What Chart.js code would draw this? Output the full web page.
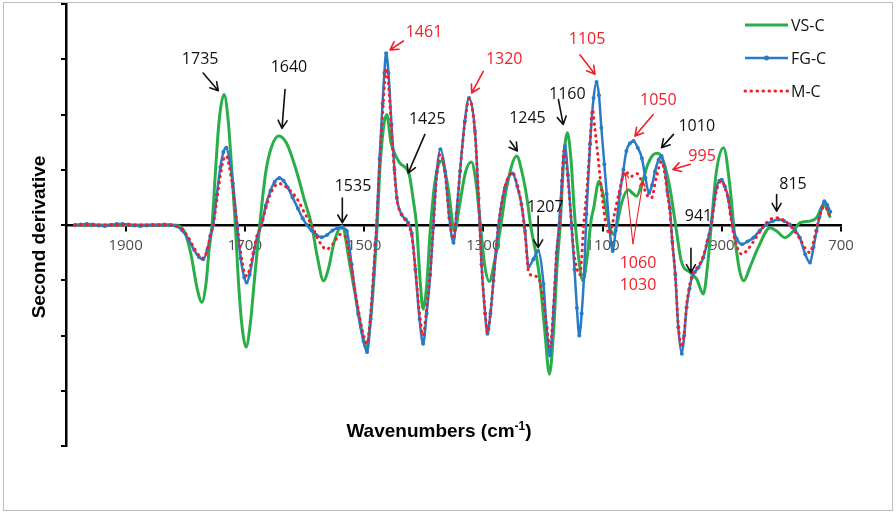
<!DOCTYPE html>
<html>
<head>
<meta charset="utf-8">
<script src="https://cdn.jsdelivr.net/npm/chart.js@4/dist/chart.umd.min.js"></script>
<style>
  html, body { margin: 0; padding: 0; background: #fff; }
  #wrap { width: 896px; height: 513px; position: relative; }
</style>
</head>
<body>
<div id="wrap"><canvas id="c" width="896" height="513"></canvas></div>
<script>
// Second-derivative FTIR spectra, wavenumber (cm-1) vs. arbitrary units

const vscWn = [1985,1970,1955,1940,1925,1910,1895,1880,1865,1850,1835,1820,1810,1800,1790,1780,1772,1765,1760,1755,1750,1743,1735,1728,1722,1716,1710,1704,1698,1691,1684,1675,1665,1655,1643,1630,1620,1610,1600,1588,1578,1568,1560,1550,1537,1524,1507,1497,1488,1478,1473,1462,1455,1448,1440,1426,1423,1418,1412,1406,1401,1395,1389,1381,1370,1359,1348,1340,1330,1320,1312,1306,1298,1290,1281,1272,1261,1244,1235,1227,1220,1212,1205,1197,1189,1182,1176,1171,1165,1159,1153,1147,1140,1133,1126,1119,1115,1106,1099,1092,1086,1081,1075,1068,1057,1050,1043,1034,1024,1015,1007,998,987,976,968,953,942,931,923,917,909,897,886,878,870,863,853,839,819,808,794,780,769,752,741,729,723,718];
const vscVal = [0,0,0,0,0,0,0,0,0,0,0,0,-0.02,-0.15,-0.55,-1.15,-1.40,-1.05,-0.45,0,0.85,1.9,2.36,1.9,1.0,0,-1.15,-1.9,-2.21,-1.8,-1.0,0,0.95,1.42,1.61,1.48,1.2,0.85,0.45,0,-0.6,-1.01,-0.8,-0.3,-0.02,-0.71,-1.73,-2.21,-1.6,0,1.1,2.0,1.5,1.28,1.12,0.97,0.85,0.49,0,-1.0,-1.52,-1.1,-0.1,0.79,1.16,0.67,-0.11,0.35,0.95,1.14,0.75,0.13,-0.7,-1.02,-0.65,-0.11,0.67,1.25,0.95,0.5,-0.05,-0.5,-1.0,-1.9,-2.70,-1.9,-0.7,0,1.2,1.67,1.2,0.2,-0.6,-1.01,-0.6,0.1,0.3,0.79,0.55,0.15,-0.1,-0.17,0.05,0.4,0.64,0.58,0.52,0.75,1.1,1.27,1.30,1.15,0.67,-0.11,-0.65,-0.86,-0.98,-1.25,-0.65,0.07,0.97,1.40,0.67,-0.23,-0.83,-1.01,-0.77,-0.41,-0.05,-0.11,-0.23,-0.11,0.04,0.07,0.13,0.37,0.28,0.13];

const fgcWn = [1985,1975,1965,1955,1945,1935,1925,1915,1905,1895,1885,1875,1865,1855,1845,1835,1825,1815,1805,1795,1785,1777,1770,1763,1758,1753,1747,1741,1736,1731,1726,1720,1713,1707,1701,1697,1692,1685,1679,1672,1665,1657,1650,1642,1635,1628,1620,1611,1603,1596,1588,1580,1571,1562,1553,1545,1537,1529,1521,1510,1501,1495,1489,1484,1479,1474,1469,1466,1463,1459,1454,1449,1445,1437,1430,1426,1420,1414,1407,1401,1395,1389,1384,1378,1372,1364,1357,1350,1345,1339,1331,1324,1314,1308,1303,1297,1293,1288,1283,1275,1264,1251,1243,1236,1230,1224,1216,1208,1199,1194,1188,1182,1177,1173,1168,1163,1158,1152,1147,1143,1139,1135,1131,1127,1121,1115,1110,1106,1102,1097,1093,1088,1083,1078,1071,1065,1060,1054,1048,1041,1034,1028,1022,1017,1012,1006,1001,996,991,987,983,978,973,967,963,959,954,950,945,939,931,924,917,909,904,900,895,889,885,881,875,866,857,847,836,825,815,805,795,786,777,769,760,752,746,741,736,732,728,723,718];
const fgcVal = [0,0.01,0.02,0.01,-0.01,-0.02,0,0.02,0.02,0.01,-0.01,-0.02,-0.01,0,0,0.01,0,-0.02,-0.1,-0.25,-0.45,-0.58,-0.62,-0.45,-0.2,0,0.55,1.05,1.32,1.40,1.2,0.75,0,-0.6,-0.95,-1.04,-0.9,-0.5,-0.2,0,0.35,0.62,0.78,0.85,0.8,0.68,0.5,0.3,0.12,0,-0.1,-0.18,-0.22,-0.18,-0.1,-0.06,-0.05,-0.11,-0.71,-1.61,-2.1,-2.30,-1.7,-0.9,0,1.2,2.2,2.75,3.11,2.75,1.82,1.0,0.49,0.19,0.1,0.04,-0.15,-0.8,-1.7,-2.15,-1.6,-0.9,-0.05,0.97,1.37,0.97,0.13,-0.32,0.2,0.97,1.88,2.30,1.70,0.49,-0.71,-1.6,-1.97,-1.6,-1.01,-0.05,0.67,0.93,0.7,0.37,-0.11,-0.75,-0.62,-0.47,-1.07,-1.85,-2.36,-1.5,-0.5,0,0.8,1.43,0.9,0,-0.8,-1.5,-2.0,-1.6,-0.9,0.2,1.46,2.3,2.59,2.35,1.76,1.1,0.56,-0.1,-0.47,-0.1,0.56,1.0,1.34,1.48,1.52,1.4,1.21,0.85,0.58,0.72,0.97,1.18,1.25,1.05,0.6,0.3,-0.3,-0.9,-1.85,-2.33,-2.0,-1.49,-1.15,-0.95,-0.85,-0.77,-0.59,-0.3,0.07,0.67,0.8,0.82,0.7,0.49,0.2,-0.05,-0.25,-0.35,-0.3,-0.23,-0.1,0.01,0.07,0.1,0.07,0.01,-0.1,-0.23,-0.53,-0.68,-0.4,-0.11,0.15,0.31,0.43,0.36,0.24];

const mcWn = [1985,1965,1945,1925,1905,1885,1865,1845,1825,1815,1805,1795,1785,1777,1770,1763,1758,1753,1747,1741,1736,1731,1726,1720,1713,1707,1701,1697,1692,1685,1679,1672,1665,1657,1650,1642,1635,1628,1620,1611,1600,1588,1575,1563,1552,1540,1532,1524,1512,1502,1495,1489,1484,1479,1474,1469,1466,1463,1459,1454,1449,1445,1437,1430,1426,1420,1414,1407,1401,1395,1389,1384,1378,1372,1364,1357,1350,1345,1339,1331,1324,1314,1308,1303,1297,1293,1288,1283,1275,1264,1251,1243,1236,1230,1224,1216,1207,1197,1193,1188,1182,1177,1172,1168,1165,1159,1155,1149,1142,1138,1135,1132,1127,1121,1117,1113,1107,1101,1096,1088,1080,1072,1062,1052,1042,1033,1026,1018,1010,1001,996,991,987,983,978,973,967,963,959,954,950,945,939,931,924,917,909,904,900,895,889,885,881,875,866,857,847,836,825,815,805,795,786,777,769,760,752,746,741,736,732,728,723,718];
const mcVal = [0,0,0,0,0,0,0,0,0,-0.02,-0.08,-0.22,-0.42,-0.55,-0.6,-0.45,-0.2,0,0.45,0.9,1.18,1.25,1.05,0.65,0,-0.5,-0.85,-0.92,-0.8,-0.45,-0.18,0,0.3,0.56,0.7,0.75,0.72,0.66,0.58,0.45,0.22,0,-0.3,-0.44,-0.34,-0.17,-0.2,-0.6,-1.4,-1.95,-2.15,-1.6,-0.85,0,1.1,2.0,2.5,2.84,2.55,1.7,0.95,0.48,0.18,0.08,0,-0.2,-0.8,-1.6,-2.0,-1.5,-0.85,-0.05,0.9,1.28,0.92,0.13,-0.25,0.2,0.97,1.85,2.28,1.68,0.49,-0.7,-1.58,-1.95,-1.6,-1.0,-0.05,0.67,0.95,0.72,0.37,-0.15,-0.85,-0.92,-0.97,-1.55,-1.9,-2.21,-1.45,-0.5,0,0.75,1.34,0.95,0.43,-0.41,-0.83,-0.9,-0.6,-0.05,0.55,1.46,2.09,1.76,1.16,0.55,0.13,-0.17,0.2,0.6,0.97,0.88,0.93,0.75,0.55,0.49,0.85,1.15,0.95,0.55,0.25,-0.3,-0.9,-1.8,-2.21,-1.95,-1.45,-1.1,-0.92,-0.82,-0.74,-0.57,-0.28,0.05,0.62,0.76,0.8,0.68,0.45,0.15,-0.12,-0.38,-0.53,-0.45,-0.3,-0.12,0.04,0.12,0.13,0.08,0,-0.12,-0.25,-0.42,-0.5,-0.3,-0.05,0.15,0.28,0.34,0.28,0.13];

const seriesNames = ['VS-C', 'FG-C', 'M-C'];
const xTickValues = [1900, 1700, 1500, 1300, 1100, 900, 700];

// Band labels: text anchor, arrow tail and arrow tip, all in (wavenumber, value)
const INK = '#111111';
const RED = '#F0202A';
const bandNotes = [
  { text: '1735', color: INK, at: [1775, 3.0],   from: [1770, 2.75],   to: [1744.5, 2.43] },
  { text: '1640', color: INK, at: [1626, 2.85],  from: [1632.6, 2.45], to: [1637.7, 1.75] },
  { text: '1535', color: INK, at: [1518.6, 0.69], from: [1536.5, 0.49], to: [1536.5, 0.04] },
  { text: '1461', color: RED, at: [1399.5, 3.48], from: [1434, 3.33],  to: [1456.5, 3.17] },
  { text: '1425', color: INK, at: [1394, 1.91],  from: [1398, 1.64],   to: [1426, 0.94] },
  { text: '1320', color: RED, at: [1265, 2.99],  from: [1300, 2.78],   to: [1319.5, 2.39] },
  { text: '1245', color: INK, at: [1226, 1.93],  from: [1255, 1.52],   to: [1243, 1.34] },
  { text: '1207', color: INK, at: [1196, 0.31],  from: [1208, 0.16],   to: [1208, -0.41] },
  { text: '1160', color: INK, at: [1159, 2.36],  from: [1174, 2.27],   to: [1166, 1.82] },
  { text: '1105', color: RED, at: [1126, 3.35],  from: [1138, 3.08],   to: [1112.7, 2.73] },
  { text: '1050', color: RED, at: [1006.5, 2.25], from: [1015, 2.0],   to: [1045.6, 1.61] },
  { text: '1010', color: INK, at: [942, 1.79],   from: [981, 1.64],    to: [1001, 1.40] },
  { text: '995',  color: RED, at: [933, 1.245],  from: [953, 1.10],    to: [982, 1.005] },
  { text: '941',  color: INK, at: [939, 0.15],   from: [951.7, -0.42], to: [951.7, -0.86] },
  { text: '815',  color: INK, at: [780.5, 0.735], from: [808, 0.55],   to: [808, 0.25] },
  { text: '1060', color: RED, at: [1040.5, -0.70] },
  { text: '1030', color: RED, at: [1040.5, -1.10] }
];
// thin pointer pair from the 1060 / 1030 labels up to the M-C shoulders
const pairPointers = [
  { from: [1049, -0.34], to: [1062, 0.94] },
  { from: [1049, -0.34], to: [1032, 0.79] }
];

const GREEN = '#2AAE4A';
const BLUE = '#2A7BC6';

const toXY = (wn, val) => wn.map((w, i) => ({ x: w, y: val[i] }));

const NUM_FONT = '16px "Open Sans", "Noto Sans", sans-serif';
const TITLE_FONT = 'bold 19px "Liberation Sans", Arial, sans-serif';

function drawArrow(ctx, x1, y1, x2, y2, color, width, head) {
  ctx.save();
  ctx.strokeStyle = color;
  ctx.lineWidth = width;
  ctx.lineCap = 'round';
  ctx.lineJoin = 'round';
  ctx.beginPath();
  ctx.moveTo(x1, y1);
  ctx.lineTo(x2, y2);
  const ang = Math.atan2(y2 - y1, x2 - x1);
  const spread = Math.PI / 6;
  ctx.moveTo(x2 - head * Math.cos(ang - spread), y2 - head * Math.sin(ang - spread));
  ctx.lineTo(x2, y2);
  ctx.lineTo(x2 - head * Math.cos(ang + spread), y2 - head * Math.sin(ang + spread));
  ctx.stroke();
  ctx.restore();
}

const decorations = {
  id: 'decorations',
  beforeDraw(chart) {
    const ctx = chart.ctx;
    ctx.save();
    ctx.fillStyle = '#ffffff';
    ctx.fillRect(0, 0, chart.width, chart.height);
    ctx.strokeStyle = '#BDBDBD';
    ctx.lineWidth = 1;
    ctx.strokeRect(3.5, 2.5, 889, 508);
    ctx.restore();
  },
  afterDraw(chart) {
    const ctx = chart.ctx;
    const xs = chart.scales.x, ys = chart.scales.y;
    const px = (p) => [xs.getPixelForValue(p[0]), ys.getPixelForValue(p[1])];

    // band labels and arrows
    ctx.save();
    ctx.font = NUM_FONT;
    ctx.textAlign = 'center';
    ctx.textBaseline = 'middle';
    bandNotes.forEach(n => {
      const [tx, ty] = px(n.at);
      ctx.fillStyle = n.color;
      ctx.fillText(n.text, tx, ty);
      if (n.from) {
        const [ax, ay] = px(n.from);
        const [bx, by] = px(n.to);
        drawArrow(ctx, ax, ay, bx, by, n.color, 1.6, 9);
      }
    });
    pairPointers.forEach(p => {
      const [ax, ay] = px(p.from);
      const [bx, by] = px(p.to);
      drawArrow(ctx, ax, ay, bx, by, RED, 1.1, 6);
    });
    ctx.restore();

    // axis titles
    ctx.save();
    ctx.fillStyle = '#000';
    ctx.font = TITLE_FONT;
    ctx.textAlign = 'center';
    ctx.textBaseline = 'middle';
    ctx.translate(40, 237);
    ctx.rotate(-Math.PI / 2);
    ctx.fillText('Second derivative', 0, 0);
    ctx.restore();

    ctx.save();
    ctx.fillStyle = '#000';
    ctx.textBaseline = 'alphabetic';
    ctx.textAlign = 'left';
    const partA = 'Wavenumbers (cm', partS = '-1', partB = ')';
    ctx.font = TITLE_FONT;
    const wA = ctx.measureText(partA).width, wB = ctx.measureText(partB).width;
    const SUP_FONT = 'bold 12px "Liberation Sans", Arial, sans-serif';
    ctx.font = SUP_FONT;
    const wS = ctx.measureText(partS).width;
    let x0 = 439 - (wA + wS + wB) / 2;
    const base = 437;
    ctx.font = TITLE_FONT;
    ctx.fillText(partA, x0, base);
    ctx.font = SUP_FONT;
    ctx.fillText(partS, x0 + wA, base - 7);
    ctx.font = TITLE_FONT;
    ctx.fillText(partB, x0 + wA + wS, base);
    ctx.restore();

    // legend
    ctx.save();
    const rows = [25, 58, 91];
    chart.data.datasets.forEach((ds, i) => {
      const y = rows[i];
      ctx.save();
      ctx.strokeStyle = ds.borderColor;
      ctx.lineWidth = ds.borderWidth;
      ctx.lineCap = ds.borderCapStyle || 'butt';
      ctx.setLineDash(ds.borderDash || []);
      ctx.beginPath();
      ctx.moveTo(745, y);
      ctx.lineTo(788, y);
      ctx.stroke();
      ctx.restore();
      if (ds.pointRadius > 0) {
        ctx.fillStyle = ds.pointBackgroundColor;
        ctx.beginPath();
        ctx.arc(766.5, y, ds.pointRadius + 0.5, 0, Math.PI * 2);
        ctx.fill();
      }
      ctx.fillStyle = '#111';
      ctx.font = '16px "Open Sans", "Noto Sans", sans-serif';
      ctx.textAlign = 'left';
      ctx.textBaseline = 'middle';
      ctx.fillText(ds.label, 791, y + 1);
    });
    ctx.restore();
  }
};

new Chart(document.getElementById('c'), {
  type: 'line',
  data: {
    datasets: [
      {
        label: seriesNames[0],
        data: toXY(vscWn, vscVal),
        borderColor: GREEN,
        borderWidth: 3,
        pointRadius: 0,
        cubicInterpolationMode: 'monotone',
        order: 3
      },
      {
        label: seriesNames[1],
        data: toXY(fgcWn, fgcVal),
        borderColor: BLUE,
        borderWidth: 2.5,
        pointRadius: 2,
        pointBackgroundColor: BLUE,
        pointBorderWidth: 0,
        pointStyle: 'circle',
        cubicInterpolationMode: 'monotone',
        order: 2
      },
      {
        label: seriesNames[2],
        data: toXY(mcWn, mcVal),
        borderColor: RED,
        borderWidth: 3,
        borderDash: [0.5, 5.5],
        borderCapStyle: 'round',
        pointRadius: 0,
        cubicInterpolationMode: 'monotone',
        order: 1
      }
    ]
  },
  options: {
    responsive: false,
    animation: false,
    devicePixelRatio: 1,
    layout: { padding: { left: 61, right: 55, top: 3, bottom: 67 } },
    plugins: { legend: { display: false }, tooltip: { enabled: false } },
    scales: {
      x: {
        type: 'linear',
        reverse: true,
        min: 700,
        max: 2000,
        position: { y: 0 },
        afterBuildTicks: (s) => { s.ticks = xTickValues.map(v => ({ value: v })); },
        ticks: {
          font: { family: '"Open Sans", "Noto Sans", sans-serif', size: 15 },
          color: '#4d4d4d',
          padding: 7,
          maxRotation: 0,
          autoSkip: false,
          callback: (v) => String(v)
        },
        grid: { drawOnChartArea: false, drawTicks: true, tickLength: 5, color: '#000', lineWidth: 2 },
        border: { display: true, color: '#000', width: 2.5 }
      },
      y: {
        min: -4,
        max: 4,
        ticks: { display: false, stepSize: 1 },
        grid: { drawOnChartArea: false, drawTicks: true, tickLength: 5, color: '#000', lineWidth: 2 },
        border: { display: true, color: '#000', width: 2.5 }
      }
    }
  },
  plugins: [decorations]
});
</script>
</body>
</html>
